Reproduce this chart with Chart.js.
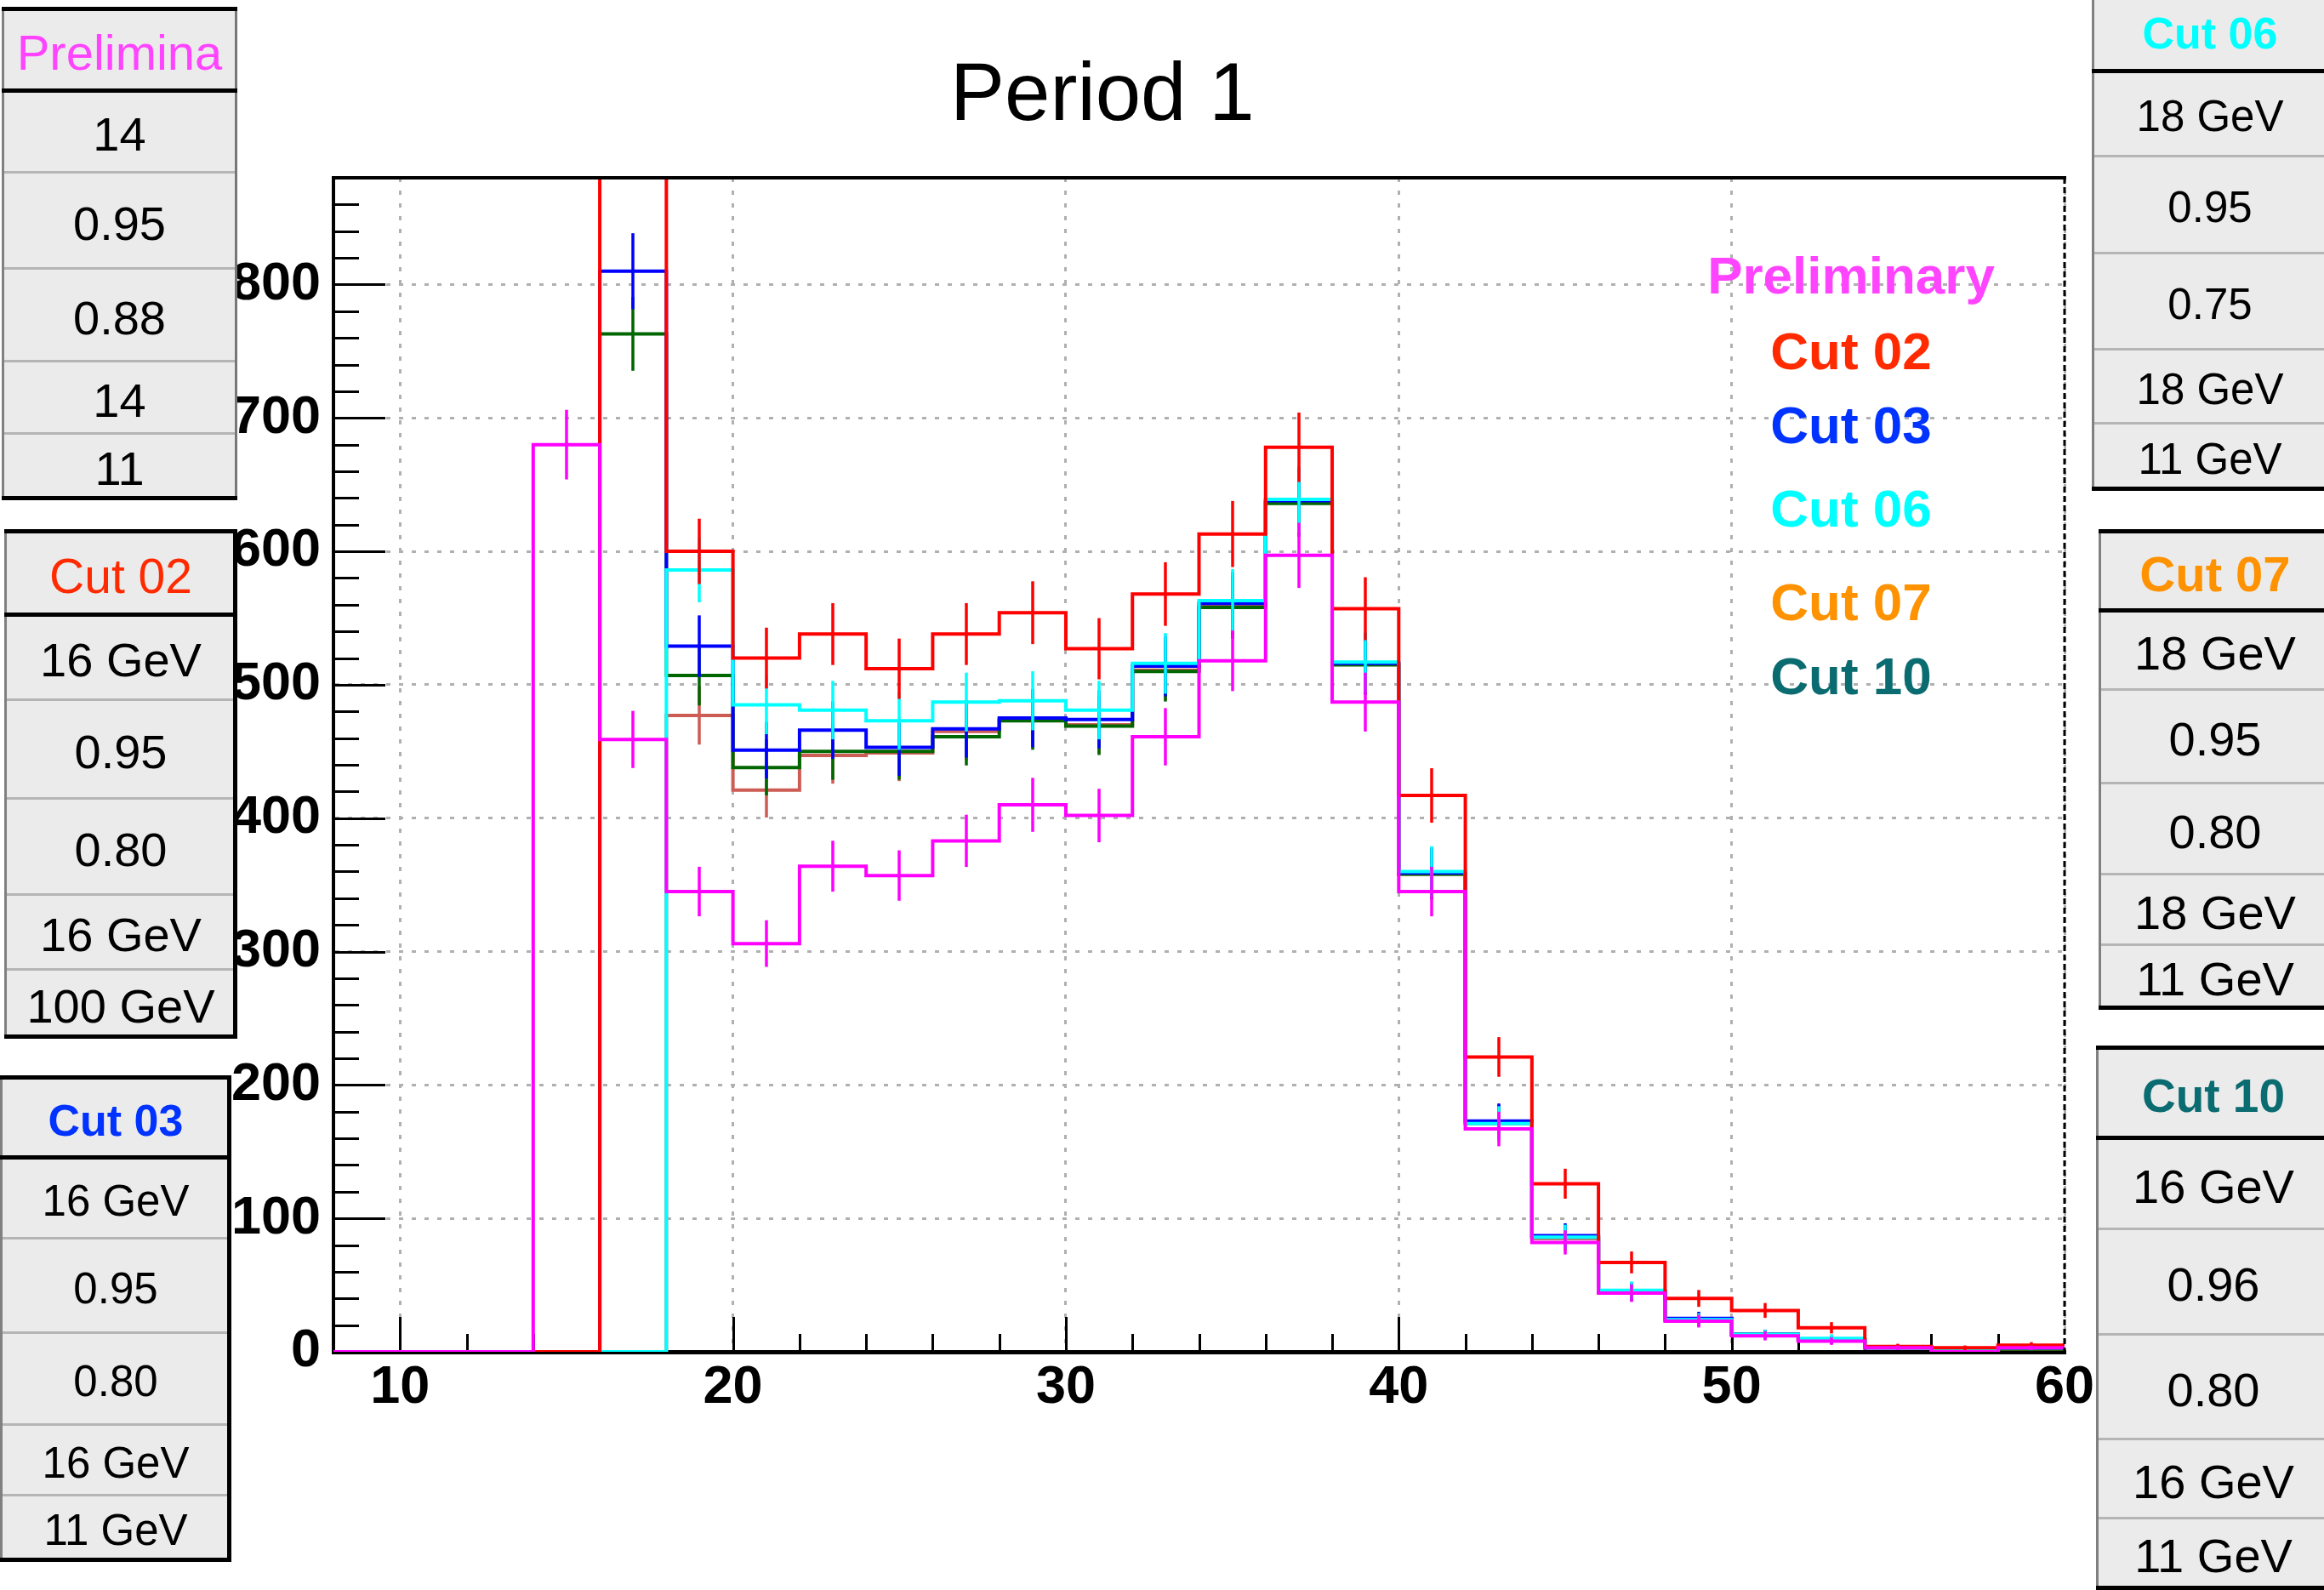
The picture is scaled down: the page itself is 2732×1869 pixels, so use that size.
<!DOCTYPE html>
<html>
<head>
<meta charset="utf-8">
<script src="https://cdn.jsdelivr.net/npm/chart.js@4.4.1/dist/chart.umd.min.js"></script>
<style>
html,body{margin:0;padding:0;background:#fff;overflow:hidden;}
#wrap{position:relative;width:2732px;height:1869px;overflow:hidden;}
#c{position:absolute;left:0;top:0;}
.txt{position:absolute;white-space:nowrap;line-height:1;font-family:'Liberation Sans',Arial,Helvetica,sans-serif;}
.box{position:absolute;}
.cell{position:absolute;display:flex;align-items:center;justify-content:center;white-space:nowrap;font-family:'Liberation Sans',Arial,Helvetica,sans-serif;color:#000;box-sizing:border-box;padding-top:7px;}
</style>
</head>
<body>
<div id="wrap">
<canvas id="c" width="2732" height="1869"></canvas>
</div>
<script>
// ---------------- DATA ----------------
const binLow = [8,10,12,14,16,18,20,22,24,26,28,30,32,34,36,38,40,42,44,46,48,50,52,54,56,58];
const binWidth = 2;

const preliminary = [0,0,0,680,459,345,306,364,357,383,410,402,461,518,597,487,345,167,82,44,23,12,8,3,0,3];
const cut02 = [0,0,0,0,1000,600,520,538,512,538,554,527,568,613,678,557,417,221,126,67,40,31,18,4,3,5];
const cut03 = [0,0,0,0,810,529,451,466,453,467,475,474,514,561,638,516,359,173,87,45,25,13,9,3,1,3];
const cut06 = [0,0,0,0,0,586,485,481,473,487,488,481,516,563,639,517,360,171,86,46,24,13,10,3,1,3];
const cut07 = [0,0,0,0,0,477,421,447,449,465,474,470,511,559,637,516,358,171,85,45,24,13,9,3,1,2];
const cut10 = [0,0,0,0,763,507,438,450,450,461,473,469,510,558,636,515,358,172,86,45,24,13,9,3,1,2];

const seriesNames = ['Preliminary','Cut 02','Cut 03','Cut 06','Cut 07','Cut 10'];
const titleText = 'Period 1';

const xTickVals = [10,20,30,40,50,60];
const xTickLabels = ['10','20','30','40','50','60'];
const yTickVals = [0,100,200,300,400,500,600,700,800];
const yTickLabels = ['0','100','200','300','400','500','600','700','800'];

const tableHeaders = ['Prelimina','Cut 02','Cut 03','Cut 06','Cut 07','Cut 10'];
const tableRows = [
  ['14','0.95','0.88','14','11'],
  ['16 GeV','0.95','0.80','16 GeV','100 GeV'],
  ['16 GeV','0.95','0.80','16 GeV','11 GeV'],
  ['18 GeV','0.95','0.75','18 GeV','11 GeV'],
  ['18 GeV','0.95','0.80','18 GeV','11 GeV'],
  ['16 GeV','0.96','0.80','16 GeV','11 GeV']
];

// ---------------- STYLE ----------------
const lineColors = {pre:'#ff00ff', c02:'#ff0000', c03:'#0000ff', c06:'#00ffff', c07:'#cd5c55', c10:'#006600'};
const textColors = ['#ff44ff','#ff2a00','#0033ff','#00ffff','#ff9200','#0a6b70'];

const X_MIN = 8, X_MAX = 60, Y_MIN = 0, Y_MAX = 880;

function toPoints(vals){
  const pts = binLow.map((x,i)=>({x:x, y:vals[i]}));
  pts.push({x: binLow[binLow.length-1] + binWidth, y: vals[vals.length-1]});
  return pts;
}
function mkDs(label, vals, color, order){
  return {label:label, data:toPoints(vals), counts:vals, borderColor:color, backgroundColor:color,
    borderWidth:4, pointRadius:0, pointHoverRadius:0, fill:false, stepped:true, tension:0,
    borderCapStyle:'butt', borderJoinStyle:'miter', order:order};
}

// error bars drawn right after each dataset
const errorBars = {
  id:'errorBars',
  afterDatasetDraw(chart, args){
    const ds = chart.data.datasets[args.index];
    const {ctx, chartArea:a, scales:{x, y}} = chart;
    ctx.save();
    ctx.beginPath(); ctx.rect(a.left, a.top-1, a.right-a.left, a.bottom-a.top+2); ctx.clip();
    ctx.strokeStyle = ds.borderColor; ctx.lineWidth = 3.5; ctx.lineCap = 'butt';
    ds.counts.forEach((v,i)=>{
      if (v <= 0) return;
      const e = Math.sqrt(v);
      const px = Math.round(x.getPixelForValue(binLow[i] + binWidth/2));
      ctx.beginPath();
      ctx.moveTo(px, y.getPixelForValue(v - e));
      ctx.lineTo(px, y.getPixelForValue(v + e));
      ctx.stroke();
    });
    ctx.restore();
  }
};

// inward tick marks (ROOT style)
const axisTicks = {
  id:'axisTicks',
  beforeDatasetsDraw(chart){
    const {ctx, chartArea:a, scales:{x, y}} = chart;
    ctx.save(); ctx.strokeStyle = '#000'; ctx.lineWidth = 3;
    for (let v = Y_MIN; v <= Y_MAX + 1e-6; v += 20){
      const py = Math.round(y.getPixelForValue(v)) + 0.5;
      const len = (v % 100 === 0) ? 61 : 30;
      ctx.beginPath(); ctx.moveTo(a.left, py); ctx.lineTo(a.left + len, py); ctx.stroke();
    }
    for (let v = X_MIN + 2; v < X_MAX; v += 2){
      const px = Math.round(x.getPixelForValue(v)) + 0.5;
      const len = (v % 10 === 0) ? 41 : 21;
      ctx.beginPath(); ctx.moveTo(px, a.bottom); ctx.lineTo(px, a.bottom - len); ctx.stroke();
    }
    ctx.restore();
  },
  afterDatasetsDraw(chart){
    const {ctx, chartArea:a} = chart;
    ctx.save();
    ctx.strokeStyle = '#000';
    ctx.lineWidth = 4;
    ctx.beginPath(); ctx.moveTo(a.left - 2, a.top); ctx.lineTo(a.right + 2, a.top); ctx.stroke();
    ctx.lineWidth = 3; ctx.setLineDash([7,4]);
    ctx.beginPath(); ctx.moveTo(a.right, a.top); ctx.lineTo(a.right, a.bottom); ctx.stroke();
    ctx.restore();
  }
};

const tickFont = {family:"'Liberation Sans', Arial, sans-serif", size:63, weight:'bold'};

new Chart(document.getElementById('c'), {
  type:'line',
  data:{
    datasets:[
      mkDs(seriesNames[0], preliminary, lineColors.pre, 0),
      mkDs(seriesNames[1], cut02, lineColors.c02, 1),
      mkDs(seriesNames[3], cut06, lineColors.c06, 2),
      mkDs(seriesNames[2], cut03, lineColors.c03, 3),
      mkDs(seriesNames[5], cut10, lineColors.c10, 4),
      mkDs(seriesNames[4], cut07, lineColors.c07, 5)
    ]
  },
  options:{
    responsive:false, animation:false, devicePixelRatio:1, events:[],
    layout:{padding:{left:0, top:209, right:305, bottom:0}},
    plugins:{legend:{display:false}, tooltip:{enabled:false}, title:{display:false}},
    scales:{
      x:{
        type:'linear', min:X_MIN, max:X_MAX,
        afterBuildTicks:s=>{ s.ticks = xTickVals.map(v=>({value:v})); },
        afterFit:s=>{ s.height = 280; },
        ticks:{color:'#000', font:tickFont, padding:5, maxRotation:0, autoSkip:false,
               callback:(v)=>xTickLabels[xTickVals.indexOf(v)]},
        grid:{color:'#b0b0b0', lineWidth:3, drawTicks:false},
        border:{color:'#000', width:5, dash:[5,10]}
      },
      y:{
        type:'linear', min:Y_MIN, max:Y_MAX,
        afterBuildTicks:s=>{ s.ticks = yTickVals.map(v=>({value:v})); },
        afterFit:s=>{ s.width = 392; },
        ticks:{color:'#000', font:tickFont, padding:15, autoSkip:false,
               callback:(v)=>yTickLabels[yTickVals.indexOf(v)]},
        grid:{color:'#b0b0b0', lineWidth:3, drawTicks:false},
        border:{color:'#000', width:4, dash:[5,10]}
      }
    }
  },
  plugins:[errorBars, axisTicks]
});

// ---------------- HTML overlays: title, legend, tables ----------------
const wrap = document.getElementById('wrap');
function addText(txt, left, baseline, size, weight, color, center){
  const d = document.createElement('div');
  d.className = 'txt';
  d.textContent = txt;
  d.style.fontSize = size + 'px';
  d.style.fontWeight = weight;
  d.style.color = color;
  d.style.top = (baseline - 0.8465*size) + 'px';
  d.style.left = left + 'px';
  if (center) d.style.transform = 'translateX(-50%)';
  wrap.appendChild(d);
}
addText(titleText, 1117, 141, 96, 'normal', '#000', false);

const legendBaselines = [345, 434, 521, 619, 729, 816];
seriesNames.forEach((n,i)=>addText(n, 2176, legendBaselines[i], 62, 'bold', textColors[i], true));

const tableGeom = [
  {left:2, right:279, ys:[10,106,202,315,424,509,585], bold:false, hs:58, fs:56, rb:'#777', rw:3},
  {left:5, right:279, ys:[624,722,822,938,1051,1139,1218], bold:false, hs:57, fs:56, rb:'#000', rw:5},
  {left:0, right:272, ys:[1266,1360,1455,1566,1674,1757,1833], bold:true, hs:52, fs:51, rb:'#000', rw:5},
  {left:2459, right:2737, ys:[-13,83,183,297,410,497,574], bold:true, hs:52, fs:51, rb:'#000', rw:5},
  {left:2467, right:2741, ys:[624,717,810,920,1027,1110,1184], bold:true, hs:58, fs:56, rb:'#000', rw:5},
  {left:2464, right:2740, ys:[1231,1337,1444,1568,1691,1784,1866], bold:true, hs:55, fs:56, rb:'#000', rw:5}
];
function box(l, t, w, h, color){
  const d = document.createElement('div');
  d.className = 'box';
  d.style.left = l + 'px'; d.style.top = t + 'px';
  d.style.width = w + 'px'; d.style.height = h + 'px';
  d.style.background = color;
  wrap.appendChild(d);
  return d;
}
tableGeom.forEach((g, ti)=>{
  const ys = g.ys, w = g.right - g.left;
  box(g.left, ys[0], w, ys[6]-ys[0], '#ebebeb');
  const texts = [tableHeaders[ti]].concat(tableRows[ti]);
  texts.forEach((t, k)=>{
    const c = document.createElement('div');
    c.className = 'cell';
    c.style.left = g.left + 'px'; c.style.width = w + 'px';
    c.style.top = ys[k] + 'px'; c.style.height = (ys[k+1]-ys[k]) + 'px';
    c.textContent = t;
    if (k === 0){
      c.style.fontSize = g.hs + 'px';
      c.style.fontWeight = g.bold ? 'bold' : 'normal';
      c.style.color = textColors[ti];
    } else {
      c.style.fontSize = g.fs + 'px';
    }
    wrap.appendChild(c);
  });
  for (let k = 2; k <= 5; k++) box(g.left, ys[k]-1.5, w, 3, '#b5b5b5');
  box(g.left, ys[0], 3, ys[6]-ys[0], '#808080');
  box(g.right - g.rw, ys[0], g.rw, ys[6]-ys[0], g.rb);
  box(g.left, ys[0]-2.5, w, 5, '#000');
  box(g.left, ys[1]-2.5, w, 5, '#000');
  box(g.left, ys[6]-2.5, w, 5, '#000');
});
</script>
</body>
</html>
